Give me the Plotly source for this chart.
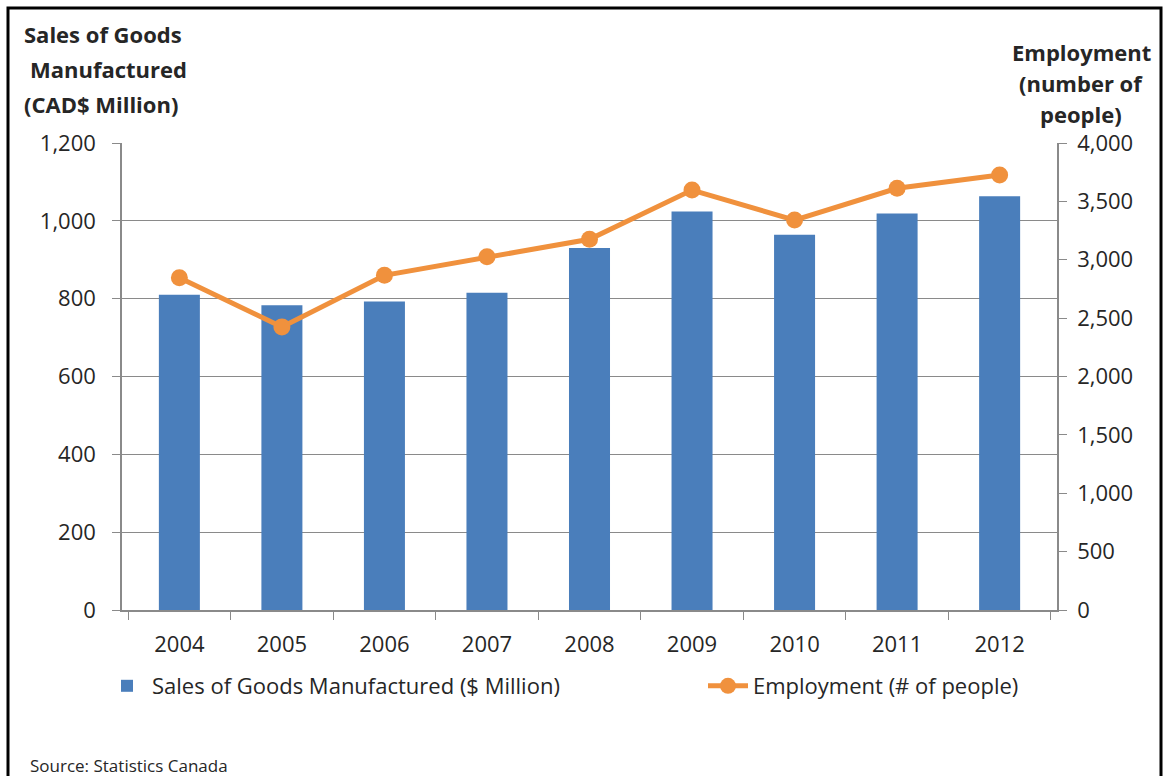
import plotly.graph_objects as go

years = ["2004", "2005", "2006", "2007", "2008", "2009", "2010", "2011", "2012"]
sales = [810, 783, 793, 815, 930, 1024, 964, 1019, 1063]
employment = [2846, 2425, 2867, 3026, 3175, 3597, 3340, 3612, 3726]
left_ticks = [0, 200, 400, 600, 800, 1000, 1200]
right_ticks = [0, 500, 1000, 1500, 2000, 2500, 3000, 3500, 4000]
left_title = ["Sales of Goods", "Manufactured", "(CAD$ Million)"]
right_title = ["Employment", "(number of", "people)"]

W, H = 1164, 776
L, R, T, B = 122, 107, 143, 166
pw, ph = W - L - R, H - T - B

def px(x):
    return (x - L) / pw

def py(y):
    return (H - B - y) / ph

FONT = "Open Sans"
TXT = "#262626"
GRID = "#8a8a8a"
TS = 22

fig = go.Figure()
fig.add_trace(go.Bar(
    x=years, y=sales, name="Sales of Goods Manufactured ($ Million)",
    marker=dict(color="#4a7ebb", line=dict(width=0)), yaxis="y", legend="legend",
))
fig.add_trace(go.Scatter(
    x=years, y=employment, name="Employment (# of people)", yaxis="y2",
    mode="lines+markers", legend="legend2",
    line=dict(color="#f0913d", width=5),
    marker=dict(color="#f0913d", size=17),
))

leg_common = dict(orientation="h", xref="container", yref="container",
                  xanchor="left", yanchor="middle", y=1 - 686 / H,
                  font=dict(family=FONT, size=TS, color=TXT), itemwidth=40,
                  bgcolor="rgba(0,0,0,0)")

fig.update_layout(
    width=W, height=H,
    margin=dict(l=L, r=R, t=T, b=B, autoexpand=False),
    paper_bgcolor="white", plot_bgcolor="white",
    font=dict(family=FONT, size=TS, color=TXT),
    bargap=0.6,
    showlegend=True,
    legend=dict(x=102 / W, **leg_common),
    legend2=dict(x=703 / W, **leg_common),
    xaxis=dict(type="category", showline=True, linecolor=GRID, linewidth=1.5,
               ticks="outside", tickson="boundaries", ticklen=8, tickcolor=GRID,
               showgrid=False, tickfont=dict(size=TS, color=TXT), ticklabelstandoff=14),
    yaxis=dict(range=[0, 1200], tickvals=left_ticks, tickformat=",",
               showline=True, linecolor=GRID, linewidth=1.5,
               ticks="outside", ticklen=8, tickcolor=GRID,
               showgrid=True, gridcolor=GRID, gridwidth=1.2, zeroline=False,
               tickfont=dict(size=TS, color=TXT), ticklabelstandoff=12),
    yaxis2=dict(range=[0, 4000], tickvals=right_ticks, tickformat=",",
                overlaying="y", side="right",
                showline=True, linecolor=GRID, linewidth=1.5,
                ticks="outside", ticklen=8, tickcolor=GRID,
                showgrid=False, zeroline=False,
                tickfont=dict(size=TS, color=TXT), ticklabelstandoff=6),
)

for i, (line, xl) in enumerate(zip(left_title, [22, 28, 22])):
    fig.add_annotation(x=px(xl), y=py(34 + i * 35), xref="paper", yref="paper",
                       xanchor="left", yanchor="middle", showarrow=False,
                       text="<b>" + line + "</b>",
                       font=dict(family=FONT, size=22, color=TXT))
for i, line in enumerate(right_title):
    fig.add_annotation(x=px(1081), y=py(52 + i * 31), xref="paper", yref="paper",
                       xanchor="center", yanchor="middle", showarrow=False,
                       text="<b>" + line + "</b>",
                       font=dict(family=FONT, size=22, color=TXT))
fig.add_annotation(x=px(28), y=py(765), xref="paper", yref="paper",
                   xanchor="left", yanchor="middle", showarrow=False,
                   text="Source: Statistics Canada",
                   font=dict(family=FONT, size=17, color=TXT))

fig.add_shape(type="rect", xref="paper", yref="paper",
              x0=px(8), x1=px(1161), y0=py(8), y1=py(790),
              line=dict(color="black", width=3), fillcolor="rgba(0,0,0,0)", layer="above")

fig.write_html("out.html")
